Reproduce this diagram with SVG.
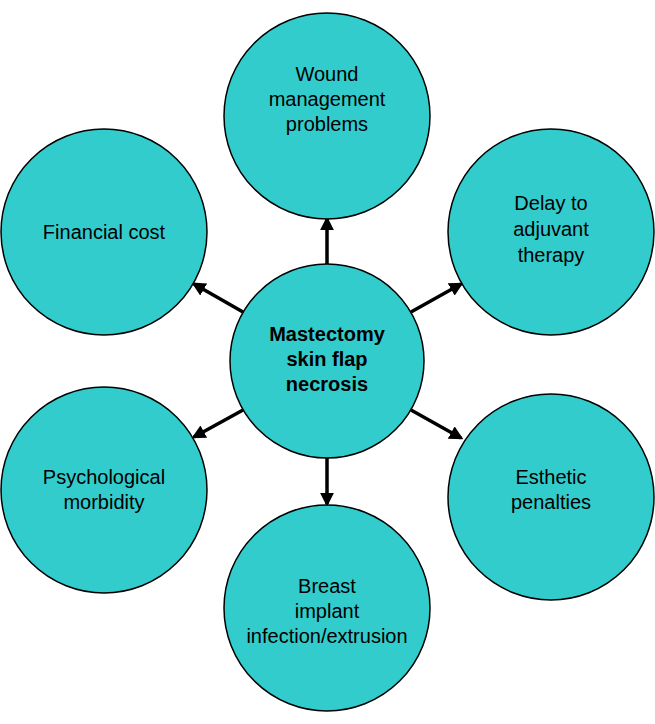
<svg xmlns="http://www.w3.org/2000/svg" width="655" height="724" viewBox="0 0 655 724">
<style>
.n{fill:#33CCCC;stroke:#000;stroke-width:1.5}
text{font-family:"Liberation Sans",Arial,sans-serif;font-size:20px;fill:#000;text-anchor:middle}
.b{font-weight:bold}
.c line{stroke:#000;stroke-width:3.5}
</style>
<defs><marker id="a" viewBox="0 0 10 10" refX="8" refY="5" markerWidth="4" markerHeight="4" orient="auto"><path d="M0,0L10,5L0,10z" fill="#000"/></marker></defs>
<g class="c">
<line x1="327" y1="264" x2="327" y2="219" marker-end="url(#a)"/>
<line x1="327" y1="458" x2="327" y2="504" marker-end="url(#a)"/>
<line x1="243" y1="312" x2="194" y2="284" marker-end="url(#a)"/>
<line x1="411" y1="312" x2="461" y2="284" marker-end="url(#a)"/>
<line x1="243" y1="410" x2="194" y2="437" marker-end="url(#a)"/>
<line x1="411" y1="410" x2="461" y2="438" marker-end="url(#a)"/>
</g>
<g id="center"><circle class="n" cx="327" cy="361" r="97"/><text class="b" x="327" y="341">Mastectomy</text><text class="b" x="327" y="366">skin flap</text><text class="b" x="327" y="391">necrosis</text></g>
<g id="wound"><circle class="n" cx="327" cy="116" r="103"/><text x="327" y="81">Wound</text><text x="327" y="106">management</text><text x="327" y="131">problems</text></g>
<g id="financial"><circle class="n" cx="104" cy="232" r="103"/><text x="104" y="239">Financial cost</text></g>
<g id="delay"><circle class="n" cx="551" cy="232" r="103"/><text x="551" y="210">Delay to</text><text x="551" y="236">adjuvant</text><text x="551" y="262">therapy</text></g>
<g id="psych"><circle class="n" cx="104" cy="490" r="103"/><text x="104" y="484">Psychological</text><text x="104" y="509">morbidity</text></g>
<g id="esthetic"><circle class="n" cx="551" cy="497" r="103"/><text x="551" y="484">Esthetic</text><text x="551" y="509">penalties</text></g>
<g id="breast"><circle class="n" cx="327" cy="608" r="103"/><text x="327" y="593">Breast</text><text x="327" y="618">implant</text><text x="327" y="643">infection/extrusion</text></g>
</svg>
